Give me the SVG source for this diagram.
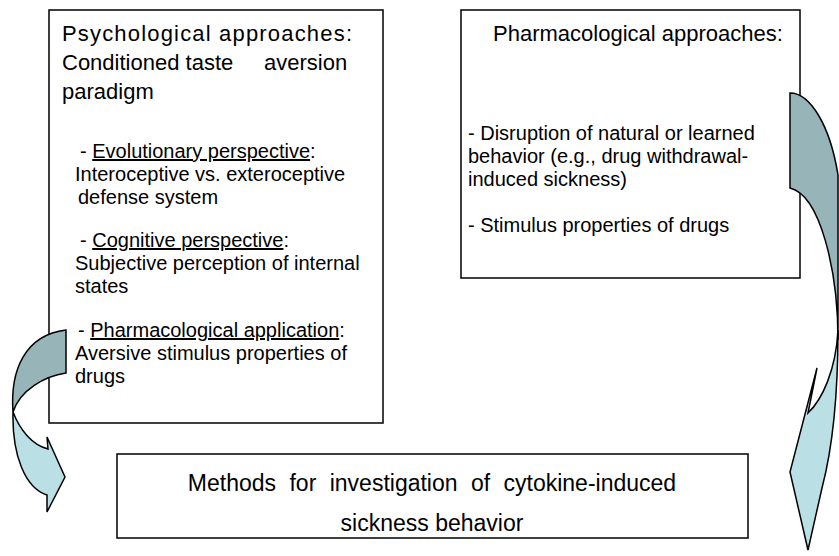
<svg xmlns="http://www.w3.org/2000/svg" width="839" height="556" viewBox="0 0 839 556">
<style>
.box{fill:#ffffff;stroke:#000000;stroke-width:1.5}
text{font-family:"Liberation Sans",Arial,sans-serif;fill:#000000}
.t{font-size:22px}
.b{font-size:20px}
.m{font-size:23px}
.u{text-decoration:underline}
.dark{fill:#97B4B8;stroke:#000000;stroke-width:1.5;stroke-linejoin:miter}
.light{fill:#BAE0E5;stroke:#000000;stroke-width:1.5;stroke-linejoin:miter}
</style>
<rect width="839" height="556" fill="#ffffff"/>
<g id="psych">
<rect class="box" x="49" y="10" width="334" height="413"/>
<text class="t" x="62" y="41" textLength="290" lengthAdjust="spacing">Psychological approaches:</text>
<text class="t" x="62" y="70">Conditioned taste <tspan x="264">aversion</tspan></text>
<text class="t" x="62" y="99">paradigm</text>
<text class="b" x="80" y="158">- <tspan class="u">Evolutionary perspective</tspan>:</text>
<text class="b" x="75" y="181">Interoceptive vs. exteroceptive</text>
<text class="b" x="78" y="204">defense system</text>
<text class="b" x="80" y="247">- <tspan class="u">Cognitive perspective</tspan>:</text>
<text class="b" x="75" y="270">Subjective perception of internal</text>
<text class="b" x="75" y="293">states</text>
<text class="b" x="78" y="337">- <tspan class="u">Pharmacological application</tspan>:</text>
<text class="b" x="75" y="360">Aversive stimulus properties of</text>
<text class="b" x="75" y="383">drugs</text>
</g>
<g id="pharm">
<rect class="box" x="461" y="10" width="339" height="268"/>
<text class="t" x="493" y="41">Pharmacological approaches:</text>
<text class="b" x="468" y="140">- Disruption of natural or learned</text>
<text class="b" x="468" y="163">behavior (e.g., drug withdrawal-</text>
<text class="b" x="468" y="186">induced sickness)</text>
<text class="b" x="468" y="232">- Stimulus properties of drugs</text>
</g>
<g id="methods">
<rect class="box" x="117" y="454" width="631" height="84"/>
<text class="m" x="432" y="491" text-anchor="middle" word-spacing="7">Methods for investigation of cytokine-induced</text>
<text class="m" x="432" y="531" text-anchor="middle">sickness behavior</text>
</g>
<g id="connectors">
<g id="arrow-left">
<path class="dark" d="M66,330 L66,373 C45,376 20,390 13,412 C10,370 25,335 66,330 Z"/>
<path class="light" d="M13,412 C20,430 32,445 48,449 L47,437 L65,477 L47,512 L47,495 C25,488 12,455 13,412 Z"/>
</g>
<g id="arrow-right">
<path class="dark" d="M790,93 C810,93 830,125 838,175 L838,340 C838,270 820,195 790,188 Z"/>
<path class="light" d="M838,330 C836,370 822,400 808,413 L817,368 L790,472 L808,550 L822,488 C832,450 838,400 838,330 Z"/>
</g>
</g>
</svg>
